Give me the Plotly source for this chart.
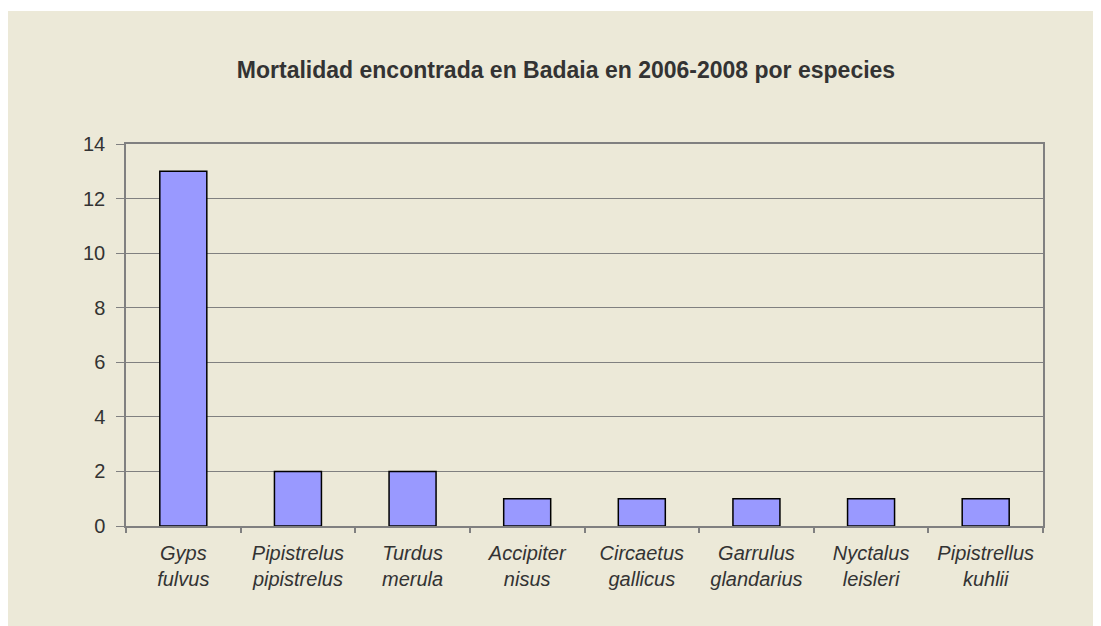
import plotly.graph_objects as go

species = ["<i>Gyps</i><br><i>fulvus</i>", "<i>Pipistrelus</i><br><i>pipistrelus</i>",
           "<i>Turdus</i><br><i>merula</i>", "<i>Accipiter</i><br><i>nisus</i>",
           "<i>Circaetus</i><br><i>gallicus</i>", "<i>Garrulus</i><br><i>glandarius</i>",
           "<i>Nyctalus</i><br><i>leisleri</i>", "<i>Pipistrellus</i><br><i>kuhlii</i>"]
counts = [13, 2, 2, 1, 1, 1, 1, 1]
y_ticks = [0, 2, 4, 6, 8, 10, 12, 14]

W, H = 1101, 626
L, R, T, B = 118, 66, 136, 108
pw, ph = W - L - R, H - T - B
BEIGE = "#ECE9D8"
TXT = "#333333"
AX = "#808080"

fig = go.Figure(go.Bar(
    x=species, y=counts,
    marker=dict(color="#9999FF", line=dict(color="#000000", width=1.5)),
    width=0.41,
))

fig.update_layout(
    width=W, height=H,
    margin=dict(l=L, r=R, t=T, b=B),
    paper_bgcolor="white",
    plot_bgcolor="rgba(0,0,0,0)",
    showlegend=False,
    font=dict(family="Arial, Liberation Sans, sans-serif", color=TXT),
    title=dict(text="<b>Mortalidad encontrada en Badaia en 2006-2008 por especies</b>",
               x=558 / W, xref="container", xanchor="center",
               y=1 - 62 / H, yref="container", yanchor="middle",
               font=dict(size=23, color=TXT)),
    shapes=[dict(type="rect", xref="paper", yref="paper", layer="below",
                 x0=(0 - L) / pw, x1=(W + 5 - L) / pw,
                 y0=(H - B - (H + 5)) / ph, y1=(H - B - 3) / ph,
                 fillcolor=BEIGE, line=dict(width=0))],
)

fig.update_yaxes(range=[0, 14], tickvals=y_ticks, showgrid=True, gridcolor=AX, gridwidth=1,
                 showline=True, linecolor=AX, linewidth=1.5, mirror=True,
                 ticks="outside", ticklen=8, tickcolor=AX, tickwidth=1,
                 ticklabelstandoff=7,
                 tickfont=dict(size=20, color=TXT), zeroline=False)
fig.update_xaxes(showline=True, linecolor=AX, linewidth=1.5, mirror=True,
                 ticks="outside", ticklen=5, tickcolor=AX, tickwidth=1.5,
                 tickson="boundaries", ticklabelstandoff=8,
                 tickfont=dict(size=20, color=TXT),
                 showgrid=False)

fig.write_html("out.html")
